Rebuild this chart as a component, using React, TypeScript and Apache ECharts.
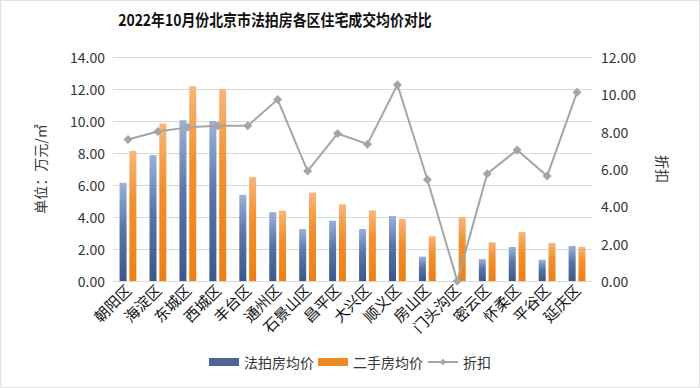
import React, { useEffect, useRef } from "react";
import * as echarts from "echarts";

const districts = ["朝阳区", "海淀区", "东城区", "西城区", "丰台区", "通州区", "石景山区", "昌平区", "大兴区", "顺义区", "房山区", "门头沟区", "密云区", "怀柔区", "平谷区", "延庆区"];
const auctionPrice = [6.14, 7.87, 10.04, 10.0, 5.38, 4.3, 3.25, 3.77, 3.25, 4.07, 1.52, 0, 1.37, 2.13, 1.33, 2.19];
const resalePrice = [8.12, 9.85, 12.17, 11.98, 6.49, 4.39, 5.53, 4.79, 4.41, 3.88, 2.8, 3.99, 2.42, 3.06, 2.38, 2.13];
const discount = [7.58, 8.01, 8.23, 8.32, 8.32, 9.72, 5.89, 7.9, 7.33, 10.51, 5.44, 0, 5.75, 7.02, 5.62, 10.11];

const FONT = "'Noto Sans CJK SC', 'Noto Sans', sans-serif";

export default function App() {
  const ref = useRef<HTMLDivElement>(null);
  useEffect(() => {
    const chart = echarts.init(ref.current!, undefined, { renderer: "svg" });
    chart.setOption({
      animation: false,
      backgroundColor: "#ffffff",
      textStyle: { fontFamily: FONT },
      graphic: [
        {
          type: "rect",
          shape: { x: 0.5, y: 0.5, width: 699, height: 387 },
          style: { fill: "none", stroke: "#e0e0e0", lineWidth: 1 },
          silent: true,
        },
        {
          type: "text",
          x: 275,
          y: 19,
          scaleX: 0.87,
          style: {
            text: "2022年10月份北京市法拍房各区住宅成交均价对比",
            fontSize: 16,
            fontWeight: "bold",
            fill: "#111",
            fontFamily: FONT,
            align: "center",
            verticalAlign: "middle",
          },
        },
      ],
      legend: {
        bottom: 14,
        left: "center",
        itemGap: 4,
        itemWidth: 30,
        itemHeight: 8,
        textStyle: { fontSize: 14, color: "#333", fontFamily: FONT },
        data: [
          { name: "法拍房均价", icon: "rect", itemStyle: { color: "#4a6797" } },
          { name: "二手房均价", icon: "rect", itemStyle: { color: "#f08a24" } },
          { name: "折扣" },
        ],
      },
      grid: { left: 113, right: 108, top: 57, bottom: 107 },
      xAxis: {
        type: "category",
        data: districts,
        axisLine: { show: true, lineStyle: { color: "#d9d9d9" } },
        axisTick: { show: false },
        axisLabel: { rotate: 45, fontSize: 15, color: "#111", interval: 0, margin: 6, fontFamily: FONT },
      },
      yAxis: [
        {
          type: "value",
          min: 0,
          max: 14,
          interval: 2,
          name: "单位：万元/㎡",
          nameLocation: "middle",
          nameRotate: 90,
          nameGap: 66,
          nameTextStyle: { fontSize: 14, color: "#333", fontFamily: FONT },
          axisLabel: { formatter: (v: number) => v.toFixed(2), fontSize: 14, color: "#333", margin: 8 },
          axisLine: { show: false },
          axisTick: { show: false },
          splitLine: { lineStyle: { color: "#d9d9d9", width: 1 } },
        },
        {
          type: "value",
          min: 0,
          max: 12,
          interval: 2,
          name: "折扣",
          nameLocation: "middle",
          nameRotate: -90,
          nameGap: 64,
          nameTextStyle: { fontSize: 14, color: "#333", fontFamily: FONT },
          axisLabel: { formatter: (v: number) => v.toFixed(2), fontSize: 14, color: "#333", margin: 9 },
          axisLine: { show: false },
          axisTick: { show: false },
          splitLine: { show: false },
        },
      ],
      series: [
        {
          name: "法拍房均价",
          type: "bar",
          data: auctionPrice,
          barWidth: 7,
          barGap: "40%",
          itemStyle: {
            color: new echarts.graphic.LinearGradient(0, 0, 0, 1, [
              { offset: 0, color: "#9bb2da" },
              { offset: 0.45, color: "#5a76a8" },
              { offset: 1, color: "#3c5788" },
            ]),
          },
        },
        {
          name: "二手房均价",
          type: "bar",
          data: resalePrice,
          barWidth: 7,
          itemStyle: {
            color: new echarts.graphic.LinearGradient(0, 0, 0, 1, [
              { offset: 0, color: "#f6b77a" },
              { offset: 0.4, color: "#f2902e" },
              { offset: 1, color: "#ee7f15" },
            ]),
          },
        },
        {
          name: "折扣",
          type: "line",
          yAxisIndex: 1,
          data: discount,
          symbol: "diamond",
          symbolSize: 9,
          lineStyle: { color: "#a5a5a5", width: 2 },
          itemStyle: { color: "#a5a5a5" },
        },
      ],
    });
    return () => chart.dispose();
  }, []);
  return <div ref={ref} style={{ width: 700, height: 388, position: "absolute", left: 0, top: 0 }} />;
}
